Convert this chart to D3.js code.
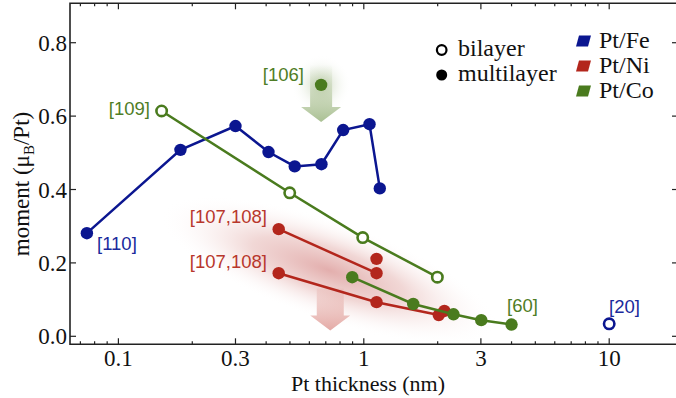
<!DOCTYPE html>
<html><head><meta charset="utf-8">
<script src="https://cdn.jsdelivr.net/npm/d3@7"></script>
<style>
html,body{margin:0;padding:0;background:#fff;}
svg{display:block;}
.serif{font-family:"Liberation Serif","Times New Roman",Tinos,Times,serif;}
.sans{font-family:"Liberation Sans",Arial,"DejaVu Sans",sans-serif;}
</style></head>
<body>
<svg id="chart" width="676" height="398"></svg>
<script>
// ---- data ----
const feMultiX = [0.0744, 0.179, 0.300, 0.409, 0.523, 0.672, 0.824, 1.055, 1.162];
const feMultiY = [0.281, 0.508, 0.573, 0.502, 0.463, 0.469, 0.562, 0.578, 0.403];
const feBiX = [10.0];
const feBiY = [0.034];
const coBiX = [0.150, 0.499, 0.990, 1.994];
const coBiY = [0.614, 0.391, 0.269, 0.161];
const coMultiX = [0.897, 1.59, 2.32, 3.01, 4.0];
const coMultiY = [0.161, 0.088, 0.060, 0.044, 0.032];
const coSingleX = [0.67];
const coSingleY = [0.685];
const niLine1X = [0.45, 1.127];
const niLine1Y = [0.292, 0.172];
const niLine2X = [0.45, 1.127, 2.02];
const niLine2Y = [0.172, 0.093, 0.058];
const niPointsX = [1.127, 2.13];
const niPointsY = [0.211, 0.069];
const xTickLabels = [0.1, 0.3, 1, 3, 10];
const yTickValues = [0.0, 0.2, 0.4, 0.6, 0.8];
const legendSeries = ["Pt/Fe", "Pt/Ni", "Pt/Co"];
const legendTypes = ["bilayer", "multilayer"];

const BLUE = "#0b1690", RED = "#b3261c", GREEN = "#4a7b1e";
const colors = [BLUE, RED, GREEN];

const svg = d3.select("#chart");
const L = 70, R = 678, T = 3.3, B = 344.3;
const x = d3.scaleLog().domain([0.0635, 19.07]).range([L, R]);
const y = d3.scaleLinear().domain([-0.0218, 0.9074]).range([B, T]);

const defs = svg.append("defs");
const rg = defs.append("radialGradient").attr("id", "redCloud");
rg.append("stop").attr("offset", "0").attr("stop-color", "rgb(208,120,118)").attr("stop-opacity", 0.6);
rg.append("stop").attr("offset", "0.45").attr("stop-color", "rgb(218,150,146)").attr("stop-opacity", 0.38);
rg.append("stop").attr("offset", "1").attr("stop-color", "rgb(255,255,255)").attr("stop-opacity", 0);
const gg = defs.append("radialGradient").attr("id", "greenGlow");
gg.append("stop").attr("offset", "0").attr("stop-color", "rgb(150,175,120)").attr("stop-opacity", 0.55);
gg.append("stop").attr("offset", "1").attr("stop-color", "rgb(255,255,255)").attr("stop-opacity", 0);
const ga = defs.append("linearGradient").attr("id", "greenArrow").attr("x1", 0).attr("y1", 0).attr("x2", 0).attr("y2", 1);
ga.append("stop").attr("offset", "0").attr("stop-color", "rgb(170,192,145)").attr("stop-opacity", 0);
ga.append("stop").attr("offset", "0.6").attr("stop-color", "rgb(170,192,145)").attr("stop-opacity", 0.6);
ga.append("stop").attr("offset", "1").attr("stop-color", "rgb(160,185,135)").attr("stop-opacity", 0.9);
const ra = defs.append("linearGradient").attr("id", "redArrow").attr("x1", 0).attr("y1", 0).attr("x2", 0).attr("y2", 1);
ra.append("stop").attr("offset", "0").attr("stop-color", "rgb(230,175,170)").attr("stop-opacity", 0.3);
ra.append("stop").attr("offset", "1").attr("stop-color", "rgb(225,160,155)").attr("stop-opacity", 0.9);

// ---- annotations (cloud and arrows) ----
const cx = x(0.72), cy = y(0.18);
svg.append("ellipse").attr("cx", 0).attr("cy", 0).attr("rx", 178).attr("ry", 50)
  .attr("transform", `translate(${cx},${cy}) rotate(19)`)
  .attr("fill", "url(#redCloud)");
const ax = x(0.73), ay0 = y(0.13);
function arrowPath(xc, top, shaftBottom, tip, sw, hw) {
  return `M${xc - sw},${top} L${xc + sw},${top} L${xc + sw},${shaftBottom} L${xc + hw},${shaftBottom} L${xc},${tip} L${xc - hw},${shaftBottom} L${xc - sw},${shaftBottom} Z`;
}
svg.append("path").attr("d", arrowPath(ax, ay0, ay0 + 27, ay0 + 42, 13.5, 20)).attr("fill", "url(#redArrow)");
const gx = x(coSingleX[0]), gy = y(coSingleY[0]);
svg.append("circle").attr("cx", gx).attr("cy", gy).attr("r", 30).attr("fill", "url(#greenGlow)");
svg.append("path").attr("d", arrowPath(gx, gy - 20, gy + 22, gy + 37, 11, 20)).attr("fill", "url(#greenArrow)");

// ---- axes ----
const allTicks = [];
for (let e = -2; e <= 1; e++) for (let m = 1; m <= 9; m++) {
  const v = m * Math.pow(10, e);
  if (v >= x.domain()[0] && v <= x.domain()[1]) allTicks.push(v);
}
const isMajor = v => xTickLabels.some(t => Math.abs(t - v) / t < 1e-6);
const axG = svg.append("g").attr("stroke", "#222").attr("stroke-width", 1.2);
allTicks.forEach(v => {
  const len = isMajor(v) ? 6 : 3;
  axG.append("line").attr("x1", x(v)).attr("x2", x(v)).attr("y1", B).attr("y2", B - len);
  axG.append("line").attr("x1", x(v)).attr("x2", x(v)).attr("y1", T).attr("y2", T + len);
});
yTickValues.forEach(v => {
  axG.append("line").attr("x1", L).attr("x2", L + 6).attr("y1", y(v)).attr("y2", y(v));
  axG.append("line").attr("x1", R).attr("x2", R - 6).attr("y1", y(v)).attr("y2", y(v));
});
svg.append("path").attr("d", `M${R},${T} L${L},${T} L${L},${B} L${R},${B} Z`)
  .attr("fill", "none").attr("stroke", "#222").attr("stroke-width", 1.6);

svg.append("g").selectAll("text").data(xTickLabels).join("text")
  .attr("class", "serif")
  .attr("x", d => x(d)).attr("y", 365.5).attr("text-anchor", "middle")
  .attr("font-size", 23).attr("fill", "#111")
  .text(d => d);
svg.append("g").selectAll("text").data(yTickValues).join("text")
  .attr("class", "serif")
  .attr("x", 67).attr("y", d => y(d) + 8).attr("text-anchor", "end")
  .attr("font-size", 23).attr("fill", "#111")
  .text(d => d.toFixed(1));
svg.append("text").attr("class", "serif").attr("x", 368).attr("y", 391).attr("text-anchor", "middle")
  .attr("font-size", 22).attr("fill", "#111")
  .text("Pt thickness (nm)");
const yt = svg.append("text").attr("class", "serif").attr("transform", "translate(29,184) rotate(-90)")
  .attr("text-anchor", "middle").attr("font-size", 23).attr("fill", "#111");
yt.append("tspan").text("moment (μ");
yt.append("tspan").attr("font-size", 15).attr("dy", 5).text("B");
yt.append("tspan").attr("dy", -5).text("/Pt)");

// ---- series ----
const line = d3.line().x(d => x(d[0])).y(d => y(d[1]));
const zip = (a, b) => a.map((v, i) => [v, b[i]]);
function drawLine(xs, ys, col) {
  svg.append("path").attr("d", line(zip(xs, ys))).attr("fill", "none")
    .attr("stroke", col).attr("stroke-width", 2.5);
}
function drawFilled(xs, ys, col) {
  svg.append("g").selectAll("circle").data(zip(xs, ys)).join("circle")
    .attr("cx", d => x(d[0])).attr("cy", d => y(d[1])).attr("r", 6.2).attr("fill", col);
}
function drawOpen(xs, ys, col) {
  svg.append("g").selectAll("circle").data(zip(xs, ys)).join("circle")
    .attr("cx", d => x(d[0])).attr("cy", d => y(d[1])).attr("r", 5.2)
    .attr("fill", "#fff").attr("stroke", col).attr("stroke-width", 2.6);
}
drawLine(feMultiX, feMultiY, BLUE);
drawFilled(feMultiX, feMultiY, BLUE);
drawOpen(feBiX, feBiY, BLUE);
drawLine(coBiX, coBiY, GREEN);
drawOpen(coBiX, coBiY, GREEN);
drawLine(niLine1X, niLine1Y, RED);
drawLine(niLine2X, niLine2Y, RED);
drawFilled(niLine1X, niLine1Y, RED);
drawFilled(niLine2X, niLine2Y, RED);
drawFilled(niPointsX, niPointsY, RED);
drawLine(coMultiX, coMultiY, GREEN);
drawFilled(coMultiX, coMultiY, GREEN);
drawFilled(coSingleX, coSingleY, GREEN);

// ---- reference labels ----
const refs = [
  {t: "[106]", px: 304, py: 81, a: "end", c: "#4f7d26"},
  {t: "[109]", px: 150, py: 115, a: "end", c: "#4f7d26"},
  {t: "[110]", px: 97, py: 250, a: "start", c: "#1a2a9c"},
  {t: "[107,108]", px: 267, py: 223, a: "end", c: "#b8372c"},
  {t: "[107,108]", px: 267, py: 268, a: "end", c: "#b8372c"},
  {t: "[60]", px: 507, py: 312, a: "start", c: "#4f7d26"},
  {t: "[20]", px: 609, py: 313, a: "start", c: "#1a2a9c"}
];
svg.append("g").selectAll("text").data(refs).join("text")
  .attr("class", "sans")
  .attr("x", d => d.px).attr("y", d => d.py).attr("text-anchor", d => d.a)
  .attr("font-size", 18.5).attr("fill", d => d.c)
  .text(d => d.t);

// ---- legends ----
const lg = svg.append("g");
legendTypes.forEach((t, i) => {
  const yy = 50 + i * 25;
  if (i === 0) lg.append("circle").attr("cx", 441.7).attr("cy", yy).attr("r", 4.8)
    .attr("fill", "#fff").attr("stroke", "#000").attr("stroke-width", 2.2);
  else lg.append("circle").attr("cx", 441.7).attr("cy", yy).attr("r", 5.5).attr("fill", "#000");
  lg.append("text").attr("class", "serif").attr("x", 458).attr("y", yy + 5.5)
    .attr("font-size", 24).attr("fill", "#111").text(t);
});
legendSeries.forEach((t, i) => {
  const top = 35.5 + i * 25;
  lg.append("path").attr("d", `M${579},${top} L${591},${top} L${588},${top + 11} L${576},${top + 11} Z`)
    .attr("fill", colors[i]);
  lg.append("text").attr("class", "serif").attr("x", 599).attr("y", top + 12.5)
    .attr("font-size", 24).attr("fill", "#111").text(t);
});
</script>
</body></html>
